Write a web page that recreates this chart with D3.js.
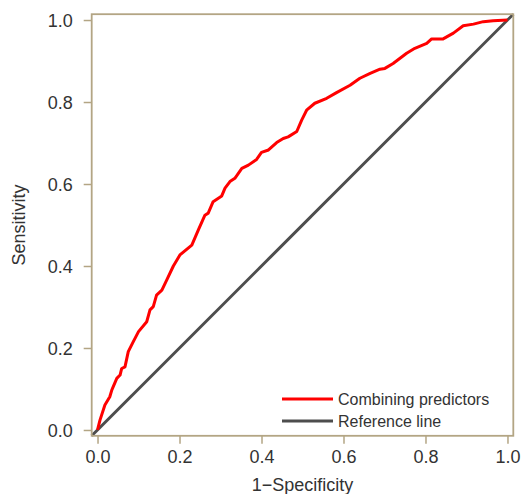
<!DOCTYPE html>
<html><head><meta charset="utf-8">
<script src="https://cdn.jsdelivr.net/npm/d3@7"></script>
<style>body{margin:0;background:#fff}svg{display:block}text{font-family:"Liberation Sans",Arial,sans-serif}</style>
</head><body><svg id="c" width="522" height="494"></svg>
<script>
const fpr = [0,0.006,0.018,0.030,0.035,0.047,0.055,0.059,0.067,0.075,0.087,0.100,0.120,0.128,0.136,0.144,0.157,0.169,0.185,0.201,0.230,0.246,0.262,0.270,0.282,0.303,0.311,0.323,0.335,0.352,0.368,0.388,0.400,0.417,0.437,0.453,0.465,0.486,0.498,0.510,0.530,0.559,0.583,0.616,0.640,0.665,0.689,0.701,0.721,0.754,0.774,0.803,0.815,0.843,0.868,0.892,0.917,0.941,0.965,1.0];
const tpr = [0,0.024,0.061,0.081,0.098,0.126,0.134,0.150,0.154,0.191,0.215,0.240,0.264,0.293,0.301,0.329,0.341,0.366,0.400,0.427,0.451,0.488,0.524,0.529,0.557,0.571,0.590,0.606,0.614,0.638,0.646,0.660,0.677,0.683,0.701,0.711,0.715,0.728,0.756,0.780,0.797,0.809,0.823,0.841,0.858,0.870,0.880,0.882,0.894,0.919,0.931,0.943,0.954,0.954,0.968,0.986,0.990,0.996,0.998,1.0];
const ticks = [0,0.2,0.4,0.6,0.8,1.0];
const seriesNames = ["Combining predictors","Reference line"];
const seriesColors = ["#ff0000","#4d4d4d"];

const svg = d3.select("#c");
const pad = 0.0142;
const x = d3.scaleLinear().domain([-pad,1+pad]).range([91.7,513.3]);
const y = d3.scaleLinear().domain([-pad,1+pad]).range([435.8,14.2]);
const frame = "#b3a584", txt = "#333";

// axes
const xa = svg.append("g").attr("transform","translate(0,435.8)")
  .call(d3.axisBottom(x).tickValues(ticks).tickFormat(d3.format(".1f")).tickSize(8).tickPadding(6));
const ya = svg.append("g").attr("transform","translate(91.7,0)")
  .call(d3.axisLeft(y).tickValues(ticks).tickFormat(d3.format(".1f")).tickSize(8).tickPadding(11));
[xa,ya].forEach(a=>{
  a.select(".domain").remove();
  a.selectAll("line").attr("stroke",frame).attr("stroke-width",1.5);
  a.selectAll("text").attr("fill",txt).style("font-size","18px");
});
ya.selectAll("text").attr("dy","0.35em");

// reference line
svg.append("line").attr("x1",x(-pad)).attr("y1",y(-pad)).attr("x2",x(1+pad)).attr("y2",y(1+pad))
  .attr("stroke",seriesColors[1]).attr("stroke-width",3);

// ROC curve
const pts = fpr.map((v,i)=>[v,tpr[i]]);
svg.append("path").datum(pts)
  .attr("d",d3.line().x(d=>x(d[0])).y(d=>y(d[1])))
  .attr("fill","none").attr("stroke",seriesColors[0]).attr("stroke-width",3).attr("stroke-linejoin","round");

// frame
svg.append("rect").attr("x",91.7).attr("y",14.2).attr("width",513.3-91.7).attr("height",435.8-14.2)
  .attr("fill","none").attr("stroke",frame).attr("stroke-width",1.8);

// axis titles
svg.append("text").attr("x",302.5).attr("y",485).attr("text-anchor","middle").attr("dominant-baseline","central")
  .attr("fill",txt).style("font-size","18px").text("1\u2212Specificity");
svg.append("text").attr("transform","translate(19,225) rotate(-90)").attr("text-anchor","middle").attr("dominant-baseline","central")
  .attr("fill",txt).style("font-size","18px").text("Sensitivity");

// legend
const lg = svg.append("g");
seriesNames.forEach((n,i)=>{
  const yy = 399 + i*22;
  lg.append("line").attr("x1",282).attr("x2",333).attr("y1",yy).attr("y2",yy)
    .attr("stroke",seriesColors[i]).attr("stroke-width",3);
  lg.append("text").attr("x",338).attr("y",yy).attr("dominant-baseline","central")
    .attr("fill",txt).style("font-size","16px").text(n);
});
</script></body></html>
